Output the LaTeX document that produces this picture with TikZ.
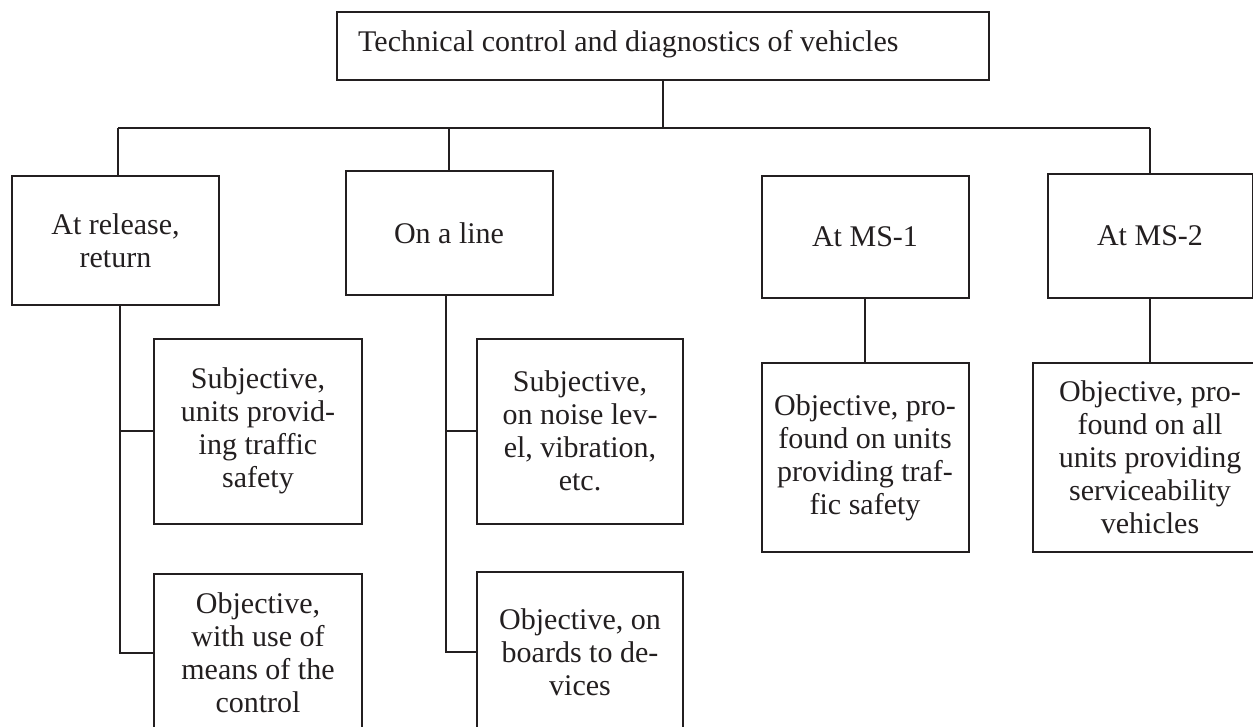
\documentclass[tikz,border=0pt]{standalone}
\usepackage{fontspec}
\setmainfont{Liberation Serif}
\definecolor{ink}{RGB}{35,31,32}
\begin{document}
\begin{tikzpicture}[x=1pt,y=-1pt,
  box/.style={draw=ink, line width=2pt, rectangle, inner sep=0pt, outer sep=0pt,
    align=center, text=ink, font=\fontsize{30pt}{33pt}\selectfont},
  conn/.style={draw=ink, line width=2pt}]
\useasboundingbox (0,0) rectangle (1253,726);
\clip (0,0) rectangle (1253,726);
% top box
\node[box, minimum width=652pt, minimum height=68pt] (T) at (663,46) {};
\node[anchor=west, inner sep=0pt, text=ink, font=\fontsize{30pt}{33pt}\selectfont] (Tt) at (358,44) {Technical control and diagnostics of vehicles};
% level 1
\node[box, minimum width=207pt, minimum height=129pt] (A) at (115.5,240.5) {At release,\\return};
\node[box, minimum width=207pt, minimum height=124pt] (B) at (449,233) {On a line};
\node[box, minimum width=207pt, minimum height=122pt] (C) at (865,237) {At MS-1};
\node[box, minimum width=205pt, minimum height=124pt] (D) at (1150,236) {At MS-2};
% level 2
\node[box, minimum width=208pt, minimum height=185pt] (S1) at (258,431) {Subjective,\\units provid-\\ing traffic\\safety};
\node[box, minimum width=208pt, minimum height=158pt] (O1) at (258,653) {Objective,\\with use of\\means of the\\control};
\node[box, minimum width=206pt, minimum height=185pt] (S2) at (580,431) {Subjective,\\on noise lev-\\el, vibration,\\etc.};
\node[box, minimum width=206pt, minimum height=160pt] (O2) at (580,652) {Objective, on\\boards to de-\\vices};
\node[box, minimum width=207pt, minimum height=189pt] (CO) at (865,457.5) {Objective, pro-\\found on units\\providing traf-\\fic safety};
\node[box, minimum width=234pt, minimum height=189pt] (DO) at (1150,457.5) {Objective, pro-\\found on all\\units providing\\serviceability\\vehicles};
% connectors
\coordinate (hl) at (118,128);
\coordinate (hr) at (1150,128);
\coordinate (As) at (120,0);
\coordinate (Bs) at (446,0);
\draw[conn] (T.south) -- (T.south |- hl);
\draw[conn] (hl) -- (hr);
\draw[conn] (hl) -- (hl |- A.north);
\draw[conn] (B.north) -- (B.north |- hl);
\draw[conn] (hr) -- (hr |- D.north);
\draw[conn] (As |- A.south) -- (As |- O1.west) -- (O1.west);
\draw[conn] (As |- S1.west) -- (S1.west);
\draw[conn] (Bs |- B.south) -- (Bs |- O2.west) -- (O2.west);
\draw[conn] (Bs |- S2.west) -- (S2.west);
\draw[conn] (C.south) -- (C.south |- CO.north);
\draw[conn] (D.south) -- (D.south |- DO.north);
\end{tikzpicture}
\end{document}
